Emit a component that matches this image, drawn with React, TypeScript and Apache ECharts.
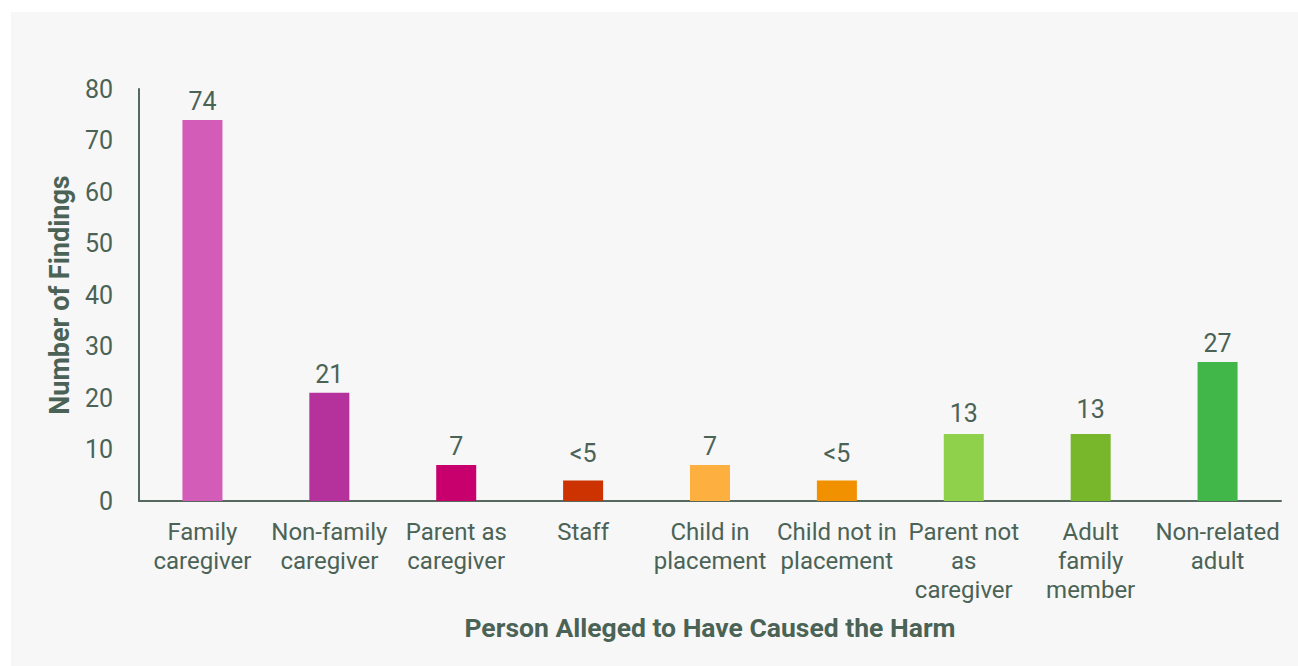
import React, { useEffect, useRef } from "react";
import * as echarts from "echarts";

const categories = [
  "Family\ncaregiver",
  "Non-family\ncaregiver",
  "Parent as\ncaregiver",
  "Staff",
  "Child in\nplacement",
  "Child not in\nplacement",
  "Parent not\nas\ncaregiver",
  "Adult\nfamily\nmember",
  "Non-related\nadult",
];
const values = [74, 21, 7, 4, 7, 4, 13, 13, 27];
const valueLabels = ["74", "21", "7", "<5", "7", "<5", "13", "13", "27"];
const labelGaps = [6, 6, 6, 14, 6, 14, 8, 12, 6];
const barColors = [
  "#d35cb8",
  "#b5329c",
  "#c8006e",
  "#cd3300",
  "#fdb03f",
  "#f29100",
  "#8fd14a",
  "#78b62c",
  "#41b649",
];
const yTicks = { min: 0, max: 80, interval: 10 };

const TEXT = "#4b6356";
const FONT = "Roboto";

export default function App() {
  const ref = useRef<HTMLDivElement>(null);
  useEffect(() => {
    if (!ref.current) return;
    const chart = echarts.init(ref.current, null, { renderer: "svg" });
    chart.setOption({
      animation: false,
      backgroundColor: "#f7f7f7",
      textStyle: { fontFamily: FONT, color: TEXT },
      grid: { left: 128, right: 17, top: 77, bottom: 165, containLabel: false },
      xAxis: {
        type: "category",
        data: categories,
        name: "Person Alleged to Have Caused the Harm",
        nameLocation: "middle",
        nameGap: 113,
        nameTextStyle: { fontFamily: FONT, fontSize: 26.5, fontWeight: "bold", color: TEXT },
        axisLine: { lineStyle: { color: "#55695f", width: 2 } },
        axisTick: { show: false },
        axisLabel: {
          fontFamily: FONT,
          fontSize: 24,
          lineHeight: 29,
          color: TEXT,
          margin: 16,
          interval: 0,
        },
      },
      yAxis: {
        type: "value",
        min: yTicks.min,
        max: yTicks.max,
        interval: yTicks.interval,
        name: "Number of Findings",
        nameLocation: "middle",
        nameGap: 65,
        nameTextStyle: { fontFamily: FONT, fontSize: 27, fontWeight: "bold", color: TEXT },
        axisLine: { show: true, lineStyle: { color: "#55695f", width: 2 } },
        axisTick: { show: false },
        splitLine: { show: false },
        axisLabel: { fontFamily: FONT, fontSize: 25, color: TEXT, margin: 26 },
      },
      series: [
        {
          type: "bar",
          data: values.map((v, i) => ({
            value: v,
            itemStyle: { color: barColors[i] },
            label: { distance: labelGaps[i] },
          })),
          barWidth: 40,
          label: {
            show: true,
            position: "top",
            fontFamily: FONT,
            fontSize: 25,
            color: TEXT,
            formatter: (p: any) => valueLabels[p.dataIndex],
          },
        },
      ],
    });
    return () => chart.dispose();
  }, []);
  return (
    <div
      ref={ref}
      style={{ position: "absolute", left: 11, top: 12, width: 1287, height: 654 }}
    />
  );
}
